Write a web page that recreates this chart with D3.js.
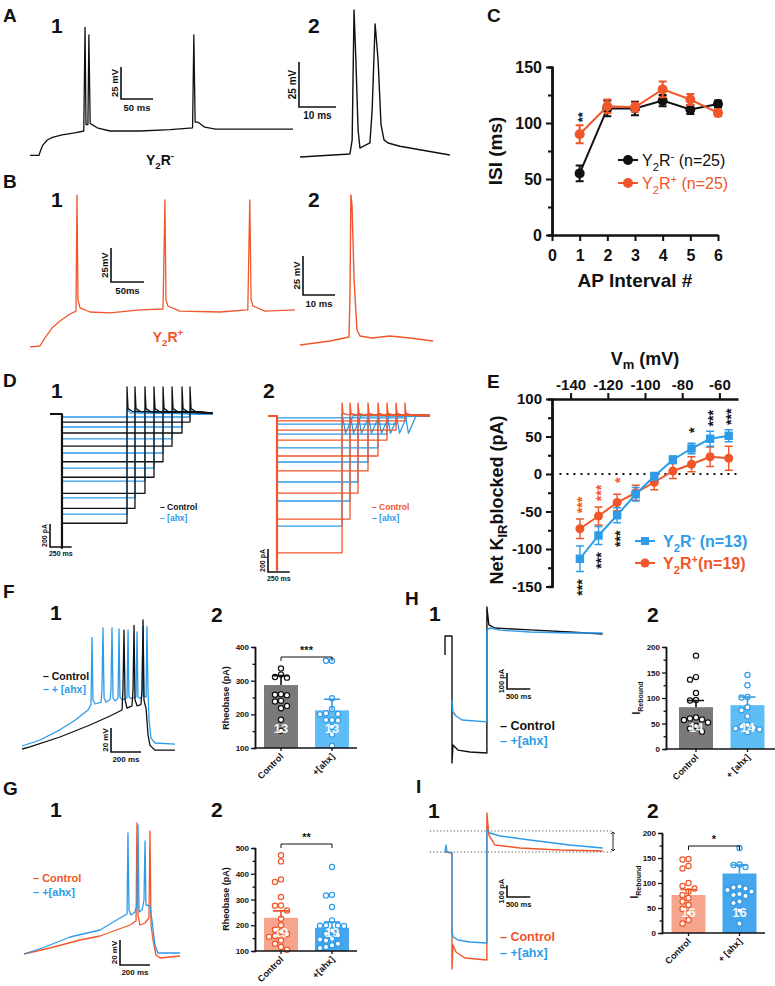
<!DOCTYPE html>
<html><head><meta charset="utf-8">
<script src="https://cdn.jsdelivr.net/npm/d3@7/dist/d3.min.js"></script>
<style>html,body{margin:0;padding:0;background:#fff;overflow:hidden}svg{display:block}</style>
</head><body>
<script>
// ================= DATA =================
const a1T=[0,14,16,20,27,35,50,70,84,86,87.5,90.5,92,94,97,105,125,172,219,254,256,258,262,273,290,344,411];
const a1V=[-79,-79,-76,-71,-67,-65,-63,-61.5,-60,21,-55,-55,15,-54,-55,-57.5,-60,-60,-59,-57.5,15,-53,-53,-57,-58.5,-58.5,-58.5];
const a2T=[0,13.5,14.1,14.6,15.1,15.7,16.2,16.8,18.9,19.5,20.3,21.1,21.9,22.7,23.8,27,32.4,40.5];
const a2V=[-75,-73.3,-65.5,6.7,-21,-60,-70,-69.4,-67.2,-48.9,-1.1,-21,-57,-65.5,-67.2,-69,-71,-73.9];
const b1T=[0,15,22.7,33.3,45.5,60.6,69.7,71.2,72.7,75.8,90.9,121,167,201.5,204.5,206,209,227,288,330,333,335,338,356,401.5];
const b1V=[-85.7,-85,-79,-71.8,-66.6,-61.5,-59.3,26,-51.2,-57,-60,-60.7,-58.5,-57.8,22.4,-51.2,-55.6,-59.3,-60,-58.5,22.4,-51.2,-55.6,-59.3,-58.5];
const b2T=[0,9.4,15.3,15.6,15.9,16.25,16.9,17.8,18.75,22.5,28.1,34.4,41.6];
const b2V=[-80,-77.4,-74.9,-51.2,16.2,9.7,-38.3,-70.4,-74.2,-75.5,-74.2,-75.5,-77.4];
const apInterval=[1,2,3,4,5,6];
const isiNeg=[55,113,113,120,112,117];
const isiNegErr=[7,7,6,5,4,3];
const isiPos=[90,115,114,130,121,109];
const isiPosErr=[8,6,4,7,5,3];
const cTicksX=[0,1,2,3,4,5,6];
const cTicksY=[0,50,100,150];
const d1Ctl=[-70,-165,-280,-415,-550,-690,-820,-950];
const d1Ahx=[-26,-113,-217,-339,-470,-583,-730,-870];
const d1End=[1613,1521,1406,1302,1198,1094,979,887];
const d2Ctl=[-43,-122,-209,-348,-478,-670,-896,-1191];
const d2Ahx=[-17,-70,-157,-278,-400,-574,-739,-957];
const d2End=[1578,1475,1371,1267,1152,1037,945,853];
const vm=[-135,-125,-115,-105,-95,-85,-75,-65,-55];
const kirNeg=[-113,-82,-55,-27,-3,19,34,47,51];
const kirNegErr=[17,12,10,9,5,5,7,10,8];
const kirPos=[-73,-56,-38,-25,-11,4,13,23,21];
const kirPosErr=[13,12,11,10,10,10,10,13,16];
const eTicksX=[-140,-120,-100,-80,-60];
const eTicksY=[-150,-100,-50,0,50,100];
const f1CtlT=[0,53,253,453,587,667,673,680,687,700,733,740,747,753,767,793,800,807,813,820,827,840,853,887,1020];
const f1CtlV=[-75,-73.3,-65,-55,-47.5,-42.5,-26,24,-34,-41,-39,-26,28,-34,-39,-38,-26,32.5,-34,-38,-41,-63,-72,-76,-76];
const f1AhxT=[0,120,253,353,440,460,467,473,487,527,533,540,547,560,587,593,600,607,620,640,647,653,667,700,707,713,727,760,767,773,787,800,807,813,827,833,840,847,860,887,1020];
const f1AhxV=[-72.5,-67.5,-59,-51,-42.5,-38,18,-34,-37.5,-36,-26,26,-32.5,-36,-34,-26,26,-32.5,-35,-33,25,-31.7,-34,-32.5,24,-31.7,-33,-31.7,22.5,-31.7,-33,-31,27,-31,-31.7,27,-26,-51,-66,-70,-71];
const fMean=[287,212], fErr=[28,33];
const fCtlDots=[336,318,311,309,260,258,257,240,238,225,218,184,151];
const fAhxDots=[359,359,248,216,203,201,200,183,183,182,163,140,107];
const g1CtlT=[0,173,373,507,707,747,753,760,773,807,833,840,847,860,880,907,1040];
const g1CtlV=[-75,-70.2,-63.8,-60.6,-51.8,-48.6,29.8,-43.8,-51.8,-50.2,-46.2,23.4,-51.8,-63.8,-75.8,-78.2,-76.6];
const g1AhxT=[0,140,307,507,640,687,693,700,713,740,753,760,767,787,800,807,813,840,853,873,893,1040];
const g1AhxV=[-75,-69.4,-61.4,-55.8,-46.2,-43,21.8,-39.8,-43.8,-41.4,-35.8,28.2,-41.4,-39.8,-31.8,15.4,-35.8,-36.6,-47.8,-67.8,-74.2,-74.2];
const gMean=[229,190], gErr=[27,22];
const gCtlDots=[472,448,378,368,310,277,276,257,225,200,183,176,166,158,155,141,128,116,105];
const gAhxDots=[426,318,316,271,219,200,199,198,197,180,167,161,148,145,141,128,122,116,112];
const h1CtlT=[0,0,150,150,171,278,535,899,899,942,1071,1820,2677,3383];
const h1CtlI=[-119,0,0,-794,-681,-713,-725,-731,181,69,50,38,25,12.5];
const h1AhxT=[150,171,236,364,899,899,964,1178,1820,2677,3383];
const h1AhxI=[-400,-475,-500,-525,-537,37,50,37,25,19,19];
const hMean=[82,86], hErr=[13,16];
const hCtlDots=[183,141,136,110,96,95,62,60,58,57,52,45,40,34];
const hAhxDots=[145,125,102,101,82,76,64,47,44,42,40,38,34,33];
const i1CtlT=[0,150,150,171,236,428,899,899,942,1071,1606,2463,3383];
const i1CtlI=[0,-8,-1000,-795,-855,-906,-923,333,145,60,34,17,8];
const i1AhxT=[0,21,43,150,150,171,278,535,899,899,964,1178,1820,2677,3383];
const i1AhxI=[0,60,0,-5,-667,-726,-752,-769,-778,188,162,137,103,60,34];
const iMean=[76,119], iErr=[11,17];
const iCtlDots=[148,147,134,129,100,94,89,83,76,70,63,56,48,40,26,19];
const iAhxDots=[170,137,136,132,93,91,89,86,83,78,76,74,63,60,45,19];
const barGroups=["Control","+[ahx]"];

// ================= DRAW =================
const FONT="'Liberation Sans', Arial, Helvetica, sans-serif";
const BLACK="#111111", ORANGE="#f0562a", BLUE="#2d9be8", GRAY="#7a7a7a", SALMON="#f7a48c", LBLUE="#5fbdf5", MBLUE="#45a6ee";
const svg=d3.select("body").append("svg").attr("width",775).attr("height",986).attr("font-family",FONT);
svg.append("rect").attr("width",775).attr("height",986).attr("fill","#fff");

function T(x,y,s,fs,o={}){
  const t=svg.append("text").attr("x",x).attr("y",y).attr("font-size",fs)
    .attr("font-weight",o.w||"bold").attr("fill",o.c||BLACK).attr("text-anchor",o.a||"start");
  if(s!=null) t.text(s);
  if(o.r!=null) t.attr("transform",`rotate(${o.r},${x},${y})`);
  return t;
}
function y2r(t,fs,sign,rest){
  t.append("tspan").text("Y");
  t.append("tspan").attr("font-size",fs*0.7).attr("dy",fs*0.3).text("2");
  t.append("tspan").attr("dy",-fs*0.3).text("R");
  t.append("tspan").attr("font-size",fs*0.7).attr("dy",-fs*0.4).text(sign);
  if(rest) t.append("tspan").attr("dy",fs*0.4).text(rest);
}
function trace(tt,vv,xs,ys,c,w){
  const d=tt.map((t,i)=>[t,vv[i]]);
  svg.append("path").attr("d",d3.line().x(p=>xs(p[0])).y(p=>ys(p[1]))(d))
    .attr("fill","none").attr("stroke",c).attr("stroke-width",w||1.3).attr("stroke-linejoin","round");
}
function sbar(cx,cy,xs,ys,tLen,vLen,vLab,tLab,fs){
  const h=Math.abs(ys(vLen)-ys(0)), w=Math.abs(xs(tLen)-xs(0));
  svg.append("path").attr("d",`M${cx},${cy-h}V${cy}H${cx+w}`).attr("fill","none").attr("stroke",BLACK).attr("stroke-width",1.6);
  T(cx-3,cy-h/2,vLab,fs,{a:"middle",r:-90});
  T(cx+w/2,cy+fs+2,tLab,fs,{a:"middle"});
}
function leg(x,y,s,c,fs){ T(x,y,"– "+s,fs,{c:c}); }
function styleAxis(g,fs,sw){
  g.attr("font-family",FONT).attr("font-size",fs).attr("font-weight","bold");
  g.select(".domain").attr("stroke",BLACK).attr("stroke-width",sw);
  g.selectAll(".tick line").attr("stroke",BLACK).attr("stroke-width",sw*0.85);
  g.selectAll(".tick text").attr("fill",BLACK);
}

[["A",3,22],["B",3,188],["C",487,22],["D",3,387],["E",487,388],["F",3,598],["G",3,795],["H",405,605],["I",416,793]]
  .forEach(d=>T(d[1],d[2],d[0],19));
[["1",51,33],["2",308,33],["1",51,207],["2",308,207],["1",51,398],["2",263,398],["1",50,620],["2",211,622],
 ["1",429,621],["2",647,622],["1",50,817],["2",211,817],["1",428,818],["2",647,818]]
  .forEach(d=>T(d[1],d[2],d[0],21));

{
  const xs=d3.scaleLinear().domain([0,50]).range([30,62]);
  const ys=d3.scaleLinear().domain([-60,-35]).range([131,99]);
  trace(a1T,a1V,xs,ys,BLACK,1.3);
  sbar(121,99,xs,ys,50,25,"25 mV","50 ms",9.5);
  y2r(T(160,165,null,14,{a:"middle"}),14,"-");
  const xs2=d3.scaleLinear().domain([0,10]).range([300,337]);
  const ys2=d3.scaleLinear().domain([-75,-50]).range([157,112]);
  trace(a2T,a2V,xs2,ys2,BLACK,1.4);
  sbar(299,107,xs2,ys2,10,25,"25 mV","10 ms",10);
}
{
  const xs=d3.scaleLinear().domain([0,50]).range([30,63]);
  const ys=d3.scaleLinear().domain([-60,-35]).range([312,278]);
  trace(b1T,b1V,xs,ys,ORANGE,1.3);
  sbar(111,282,xs,ys,50,25,"25mV","50ms",9.5);
  y2r(T(168,342,null,14,{a:"middle",c:ORANGE}),14,"+");
  const xs2=d3.scaleLinear().domain([0,10]).range([300,332]);
  const ys2=d3.scaleLinear().domain([-80,-55]).range([345,306]);
  trace(b2T,b2V,xs2,ys2,ORANGE,1.4);
  sbar(303,295,xs2,ys2,10,25,"25 mV","10 ms",9.5);
}
{
  const x=d3.scaleLinear().domain([0,6]).range([552,718]);
  const y=d3.scaleLinear().domain([0,150]).range([235,67]);
  const gm=svg.append("g").attr("transform","translate(552,0)").call(d3.axisLeft(y).tickValues([25,75,125]).tickSize(4).tickFormat(""));
  styleAxis(gm,16,2.4);
  const gy=svg.append("g").attr("transform","translate(552,0)").call(d3.axisLeft(y).tickValues(cTicksY).tickSize(6).tickSizeOuter(0).tickPadding(4).tickFormat(d=>d));
  styleAxis(gy,16,2.4);
  const gx=svg.append("g").attr("transform","translate(0,235)").call(d3.axisBottom(x).tickValues(cTicksX).tickSize(6).tickSizeOuter(0).tickPadding(9).tickFormat(d=>d));
  styleAxis(gx,16,2.4);
  T(635,287,"AP Interval #",19,{a:"middle"});
  T(502,151,"ISI (ms)",19,{a:"middle",r:-90});
  const series=[[isiNeg,isiNegErr,BLACK],[isiPos,isiPosErr,ORANGE]];
  series.forEach(([vals,errs,c])=>{
    const pts=apInterval.map((a,i)=>[a,vals[i]]);
    svg.append("path").attr("d",d3.line().x(p=>x(p[0])).y(p=>y(p[1]))(pts)).attr("fill","none").attr("stroke",c).attr("stroke-width",2);
    apInterval.forEach((a,i)=>{
      const px=x(a), y1=y(vals[i]+errs[i]), y2=y(vals[i]-errs[i]);
      svg.append("path").attr("d",`M${px},${y1}V${y2}M${px-4},${y1}H${px+4}M${px-4},${y2}H${px+4}`).attr("stroke",c).attr("stroke-width",2).attr("fill","none");
      svg.append("circle").attr("cx",px).attr("cy",y(vals[i])).attr("r",5).attr("fill",c);
    });
  });
  T(x(1)+7,y(isiPos[0]+isiPosErr[0])-8,"**",13,{a:"middle",r:-90});
  [[160,BLACK,"-"],[183,ORANGE,"+"]].forEach(([ly,c,s])=>{
    svg.append("line").attr("x1",618).attr("x2",638).attr("y1",ly).attr("y2",ly).attr("stroke",c).attr("stroke-width",2);
    svg.append("circle").attr("cx",628).attr("cy",ly).attr("r",5).attr("fill",c);
    y2r(T(642,ly+6,null,16,{c:c,w:"normal"}),16,s," (n=25)");
  });
}
function dPanel(x0,base,tStart,tStop,capI,ctl,ahx,ends,ctlColor,tailCtl,tailAhx,dipAhx){
  const xs=d3.scaleLinear().domain([0,250]).range([x0,x0+21.7]);
  const ys=d3.scaleLinear().domain([0,-200]).range([base,base+23]);
  trace([0,tStart],[0,0],xs,ys,BLUE,2);
  ahx.forEach((lv,i)=>{
    const e=ends[i];
    trace([tStart,e,e,e+40,e+130,tStop],[lv,lv,tailAhx,dipAhx,tailAhx/4,0],xs,ys,BLUE,1.3);
  });
  ctl.forEach((lv,i)=>{
    const e=ends[i];
    trace([tStart,e,e,e+12,e+60,tStop],[lv,lv,tailCtl,tailCtl/5,tailCtl/10,tailCtl/25],xs,ys,ctlColor,1.3);
  });
  trace([0,tStart,tStart,tStart],[0,0,capI,0],xs,ys,ctlColor,2.2);
  return [xs,ys];
}
{
  const [xs,ys]=dPanel(50,414,138,1870,-1165,d1Ctl,d1Ahx,d1End,BLACK,235,40,10);
  sbar(50,547,xs,ys,250,200,"200 pA","250 ms",7);
  leg(160,510,"Control",BLACK,8.5); leg(160,521,"[ahx]",BLUE,8.5);
}
{
  const [xs,ys]=dPanel(268,416,104,1866,-1340,d2Ctl,d2Ahx,d2End,ORANGE,113,20,-150);
  sbar(268,572,xs,ys,250,200,"200 pA","250 ms",7);
  leg(372,510,"Control",ORANGE,8.5); leg(372,521,"[ahx]",BLUE,8.5);
}
{
  const x=d3.scaleLinear().domain([-150,-50]).range([552,738]);
  const y=d3.scaleLinear().domain([-150,100]).range([586.5,399]);
  const gm=svg.append("g").attr("transform","translate(552,0)").call(d3.axisLeft(y).tickValues([-125,-75,-25,25,75]).tickSize(4).tickFormat(""));
  styleAxis(gm,15,2.4);
  const gy=svg.append("g").attr("transform","translate(552,0)").call(d3.axisLeft(y).tickValues(eTicksY).tickSize(6).tickSizeOuter(0).tickPadding(4).tickFormat(d=>String(d)));
  styleAxis(gy,15,2.4);
  const gx=svg.append("g").attr("transform","translate(0,399)").call(d3.axisTop(x).tickValues(eTicksX).tickSize(6).tickSizeOuter(0).tickPadding(3).tickFormat(d=>String(d)));
  styleAxis(gx,15,2.4);
  svg.append("line").attr("x1",x(-146)).attr("x2",738).attr("y1",y(0)).attr("y2",y(0)).attr("stroke",BLACK).attr("stroke-width",2).attr("stroke-dasharray","2,5");
  const vt=T(645,365,"V",18,{a:"middle"}); vt.append("tspan").attr("font-size",13).attr("dy",4).text("m"); vt.append("tspan").attr("dy",-4).text(" (mV)");
  const yt=T(503,500,"Net K",18,{a:"middle",r:-90}); yt.append("tspan").attr("font-size",13).attr("dy",4).text("IR"); yt.append("tspan").attr("dy",-4).text("blocked (pA)");
  const series=[[kirPos,kirPosErr,ORANGE,"c"],[kirNeg,kirNegErr,BLUE,"s"]];
  series.forEach(([vals,errs,c,m])=>{
    const pts=vm.map((v,i)=>[v,vals[i]]);
    svg.append("path").attr("d",d3.line().x(p=>x(p[0])).y(p=>y(p[1]))(pts)).attr("fill","none").attr("stroke",c).attr("stroke-width",2);
    vm.forEach((v,i)=>{
      const px=x(v), y1=y(vals[i]+errs[i]), y2=y(vals[i]-errs[i]);
      svg.append("path").attr("d",`M${px},${y1}V${y2}M${px-4},${y1}H${px+4}M${px-4},${y2}H${px+4}`).attr("stroke",c).attr("stroke-width",1.4).attr("fill","none");
      if(m==="c") svg.append("circle").attr("cx",px).attr("cy",y(vals[i])).attr("r",4.5).attr("fill",c);
      else svg.append("rect").attr("x",px-4.2).attr("y",y(vals[i])-4.2).attr("width",8.4).attr("height",8.4).attr("fill",c);
    });
  });
  const star=(v,yc,s,c)=>T(x(v)+7.5,yc,s,14,{a:"middle",r:-90,c:c});
  [["***",-135],["***",-125],["*",-115]].forEach(([s,v])=>{const i=vm.indexOf(v); star(v,y(kirPos[i]+kirPosErr[i])-14,s,ORANGE);});
  [["*",-75],["***",-65],["***",-55]].forEach(([s,v])=>{const i=vm.indexOf(v); star(v,y(kirNeg[i]+kirNegErr[i])-13,s,BLACK);});
  [["***",-135],["***",-125],["***",-115]].forEach(([s,v])=>{const i=vm.indexOf(v); star(v,y(kirNeg[i]-kirNegErr[i])+16,s,BLACK);});
  svg.append("line").attr("x1",635).attr("x2",655).attr("y1",541).attr("y2",541).attr("stroke",BLUE).attr("stroke-width",2);
  svg.append("rect").attr("x",641).attr("y",537).attr("width",8).attr("height",8).attr("fill",BLUE);
  y2r(T(663,547,null,16,{c:BLUE}),16,"-"," (n=13)");
  svg.append("line").attr("x1",635).attr("x2",655).attr("y1",563).attr("y2",563).attr("stroke",ORANGE).attr("stroke-width",2);
  svg.append("circle").attr("cx",645).attr("cy",563).attr("r",4.5).attr("fill",ORANGE);
  y2r(T(663,569,null,16,{c:ORANGE}),16,"+","(n=19)");
}
{
  const xs=d3.scaleLinear().domain([0,200]).range([22,52]);
  const ys=d3.scaleLinear().domain([-75,-55]).range([749,725]);
  trace(f1AhxT,f1AhxV,xs,ys,BLUE,1.3);
  trace(f1CtlT,f1CtlV,xs,ys,BLACK,1.3);
  sbar(111,752,xs,ys,200,20,"20 mV","200 ms",8);
  leg(43,680,"Control",BLACK,10.5); leg(43,693,"+ [ahx]",BLUE,10.5);
}
{
  const xs=d3.scaleLinear().domain([0,200]).range([24,54]);
  const ys=d3.scaleLinear().domain([-75,-55]).range([954,929]);
  trace(g1CtlT,g1CtlV,xs,ys,ORANGE,1.3);
  trace(g1AhxT,g1AhxV,xs,ys,BLUE,1.3);
  sbar(120,965,xs,ys,200,20,"20 mV","200 ms",8);
  leg(33,882,"Control",ORANGE,11); leg(33,896,"+[ahx]",BLUE,11);
}
{
  const xs=d3.scaleLinear().domain([0,500]).range([445,468.3]);
  const ys=d3.scaleLinear().domain([0,100]).range([636,620]);
  trace(h1CtlT,h1CtlI,xs,ys,BLACK,1.4);
  trace(h1AhxT,h1AhxI,xs,ys,BLUE,1.4);
  sbar(507,689,xs,ys,500,100,"100 pA","500 ms",7.5);
  leg(500,730,"Control",BLACK,12.5); leg(500,745,"+[ahx]",BLUE,12.5);
}
{
  const xs=d3.scaleLinear().domain([0,500]).range([445,468.3]);
  const ys=d3.scaleLinear().domain([0,100]).range([852,840.3]);
  [0,180].forEach(v=>svg.append("line").attr("x1",430).attr("x2",613).attr("y1",ys(v)).attr("y2",ys(v)).attr("stroke","#555").attr("stroke-width",1).attr("stroke-dasharray","1.2,2.2"));
  svg.append("path").attr("d",`M613,${ys(180)+1}V${ys(0)-1}M611,${ys(180)+3}L613,${ys(180)+1}L615,${ys(180)+3}M611,${ys(0)-3}L613,${ys(0)-1}L615,${ys(0)-3}`).attr("stroke",BLACK).attr("fill","none").attr("stroke-width",0.9);
  trace(i1CtlT,i1CtlI,xs,ys,ORANGE,1.4);
  trace(i1AhxT,i1AhxI,xs,ys,BLUE,1.4);
  sbar(507,897,xs,ys,500,100,"100 pA","500 ms",7.5);
  leg(500,941,"Control",ORANGE,12.5); leg(500,957,"+[ahx]",BLUE,12.5);
}
function swarm(vals,y,cx,r){
  const placed=[]; const cand=[0,-6,6,-12,12,-3,3,-9,9];
  vals.slice().sort((a,b)=>b-a).forEach(v=>{
    const py=y(v);
    const o=cand.find(o=>placed.every(p=>Math.hypot(p[0]-(cx+o),p[1]-py)>=2*r+0.8));
    placed.push([cx+(o===undefined?0:o),py]);
  });
  return placed;
}
function bars(c){
  const y=d3.scaleLinear().domain(c.dom).range([c.y0,c.y1]);
  const x=d3.scalePoint().domain(barGroups).range(c.cx);
  const bw=34;
  barGroups.forEach((g,i)=>{
    svg.append("rect").attr("x",x(g)-bw/2).attr("y",y(c.mean[i])).attr("width",bw).attr("height",c.y0-y(c.mean[i])).attr("fill",c.fill[i]);
  });
  [c.ctl,c.ahx].forEach((vals,i)=>{
    swarm(vals,y,x(barGroups[i]),2.6).forEach(p=>svg.append("circle").attr("cx",p[0]).attr("cy",p[1]).attr("r",2.6).attr("fill","#fff").attr("stroke",c.dot[i]).attr("stroke-width",1.2));
  });
  barGroups.forEach((g,i)=>{
    const px=x(g), yt=y(c.mean[i]+c.err[i]);
    svg.append("path").attr("d",`M${px},${y(c.mean[i])}V${yt}M${px-8},${yt}H${px+8}`).attr("stroke",c.dot[i]).attr("stroke-width",1.6).attr("fill","none");
    T(px,c.nY,String(c.ctl.length),13,{a:"middle",c:"#fff"}).attr("opacity",0.92);
    T(px+3,c.y0+9,c.xl[i],9,{a:"end",r:-45});
    svg.append("line").attr("x1",px).attr("x2",px).attr("y1",c.y0).attr("y2",c.y0+3).attr("stroke",BLACK).attr("stroke-width",1.3);
  });
  const gm=svg.append("g").attr("transform",`translate(${c.ax},0)`).call(d3.axisLeft(y).tickValues(c.minor).tickSize(2.5).tickFormat(""));
  styleAxis(gm,8,1.5);
  const gy=svg.append("g").attr("transform",`translate(${c.ax},0)`).call(d3.axisLeft(y).tickValues(c.ticks).tickSize(4).tickSizeOuter(0).tickPadding(2).tickFormat(d=>d));
  styleAxis(gy,8,1.5);
  svg.append("line").attr("x1",c.ax).attr("x2",c.axEnd).attr("y1",c.y0).attr("y2",c.y0).attr("stroke",BLACK).attr("stroke-width",1.5);
  if(c.ylab==="I"){
    const t=T(c.ylx,c.yly,"I",10,{a:"middle",r:-90}); t.append("tspan").attr("font-size",7).attr("dy",2.5).text("Rebound");
  } else T(c.ylx,c.yly,c.ylab,9,{a:"middle",r:-90});
  if(c.sig){
    const [x1,x2]=[x(barGroups[0]),x(barGroups[1])], yb=c.sigY;
    svg.append("path").attr("d",`M${x1},${yb+4}V${yb}H${x2}V${yb+4}`).attr("stroke",BLACK).attr("stroke-width",1).attr("fill","none");
    T((x1+x2)/2,yb-3,c.sig,11,{a:"middle"});
  }
}
bars({dom:[100,400],y0:748,y1:647,cx:[281,332],ax:255,axEnd:357,mean:fMean,err:fErr,ctl:fCtlDots,ahx:fAhxDots,
  fill:[GRAY,LBLUE],dot:[BLACK,BLUE],nY:733,xl:["Control","+[ahx]"],ticks:[100,200,300,400],minor:[150,250,350],
  ylab:"Rheobase (pA)",ylx:229,yly:698,sig:"***",sigY:657});
bars({dom:[0,200],y0:749,y1:647,cx:[696,747.5],ax:666,axEnd:775,mean:hMean,err:hErr,ctl:hCtlDots,ahx:hAhxDots,
  fill:[GRAY,LBLUE],dot:[BLACK,BLUE],nY:732,xl:["Control","+ [ahx]"],ticks:[0,50,100,150,200],minor:[25,75,125,175],
  ylab:"I",ylx:640,yly:698,sig:null});
bars({dom:[100,500],y0:951,y1:848,cx:[281,332],ax:255,axEnd:357,mean:gMean,err:gErr,ctl:gCtlDots,ahx:gAhxDots,
  fill:[SALMON,MBLUE],dot:[ORANGE,BLUE],nY:937,xl:["Control","+[ahx]"],ticks:[100,200,300,400,500],minor:[150,250,350,450],
  ylab:"Rheobase (pA)",ylx:229,yly:899,sig:"**",sigY:844});
bars({dom:[0,200],y0:933,y1:833,cx:[688.5,739.5],ax:662,axEnd:765,mean:iMean,err:iErr,ctl:iCtlDots,ahx:iAhxDots,
  fill:[SALMON,MBLUE],dot:[ORANGE,BLUE],nY:917,xl:["Control","+ [ahx]"],ticks:[0,50,100,150,200],minor:[25,75,125,175],
  ylab:"I",ylx:638,yly:882,sig:"*",sigY:846});
</script>
</body></html>
